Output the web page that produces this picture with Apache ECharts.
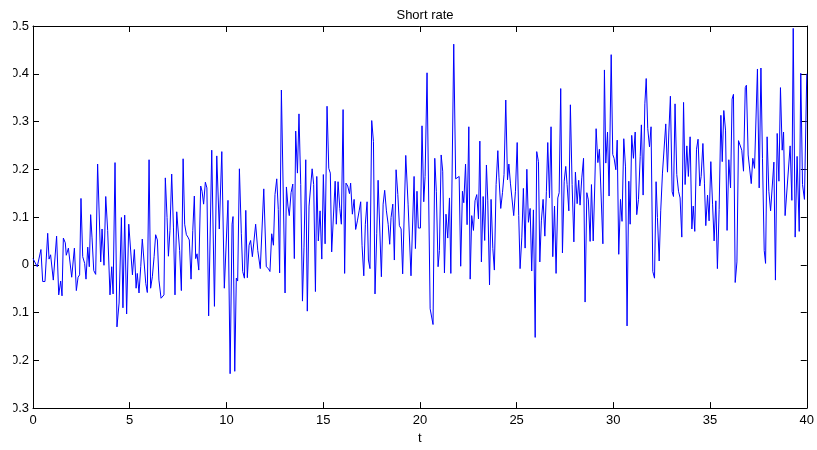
<!DOCTYPE html>
<html>
<head>
<meta charset="utf-8">
<script src="https://cdn.jsdelivr.net/npm/echarts@6/dist/echarts.min.js"></script>
<style>
html,body{margin:0;padding:0;background:#fff;}
#chart{width:817px;height:450px;}
</style>
</head>
<body>
<div id="chart"></div>
<script>
// ---- data ----
const titleText = 'Short rate';
const xName = 't';
const xTicks = [0, 5, 10, 15, 20, 25, 30, 35, 40];
const yTicks = [-0.3, -0.2, -0.1, 0, 0.1, 0.2, 0.3, 0.4, 0.5];

const t = [
0.00,0.10,0.22,0.31,0.41,0.50,0.62,0.67,0.76,0.83,0.91,1.00,1.05,1.22,1.33,1.43,1.50,1.57,1.67,1.72,1.83,2.00,2.14,2.24,2.33,2.41,2.48,2.57,2.67,2.74,2.83,2.91,2.98,3.05,3.14,3.24,3.34,3.50,3.57,3.67,3.76,3.86,3.98,4.07,4.14,4.24,4.34,4.45,4.57,4.65,4.74,4.84,4.95,
5.14,5.24,5.33,5.39,5.48,5.57,5.65,5.74,5.83,5.91,6.00,6.08,6.17,6.26,6.34,6.43,6.51,6.62,6.70,6.77,6.84,6.93,7.00,7.08,7.17,7.26,7.34,7.43,7.51,7.58,7.67,7.76,7.84,7.93,8.01,8.08,8.17,8.26,8.34,8.41,8.48,8.57,8.67,8.74,8.82,8.91,8.99,9.08,9.24,9.38,9.50,9.63,9.76,9.89,
10.08,10.19,10.29,10.34,10.43,10.51,10.58,10.67,10.77,10.84,10.93,11.00,11.08,11.17,11.25,11.34,11.51,11.62,11.75,11.93,12.06,12.17,12.25,12.34,12.43,12.51,12.60,12.68,12.75,12.84,13.03,13.10,13.18,13.25,13.34,13.43,13.51,13.58,13.67,13.75,13.84,13.93,14.01,14.10,14.18,14.27,14.36,14.43,14.51,14.60,14.67,14.75,14.84,
14.93,15.01,15.10,15.20,15.29,15.37,15.44,15.53,15.62,15.68,15.77,15.86,15.94,16.03,16.11,16.18,16.27,16.36,16.42,16.51,16.60,16.68,16.77,16.86,16.94,17.01,17.10,17.18,17.27,17.34,17.42,17.51,17.60,17.68,17.77,17.84,17.92,18.01,18.10,18.18,18.27,18.36,18.44,18.51,18.60,18.68,18.77,18.86,18.94,19.03,19.11,19.27,19.39,19.46,19.54,19.70,19.77,
19.85,19.92,20.03,20.11,20.20,20.27,20.37,20.53,20.68,20.77,20.85,20.94,21.01,21.10,21.18,21.27,21.35,21.44,21.53,21.60,21.75,21.85,21.94,22.03,22.11,22.20,22.27,22.36,22.44,22.53,22.60,22.68,22.77,22.85,22.94,23.03,23.10,23.18,23.27,23.35,23.44,23.51,23.60,23.68,23.77,23.85,23.94,24.03,24.09,24.18,24.27,24.35,24.44,24.53,24.60,
24.68,24.77,24.85,24.94,25.03,25.11,25.18,25.27,25.35,25.44,25.53,25.61,25.70,25.78,25.87,25.96,26.04,26.13,26.20,26.28,26.37,26.46,26.54,26.61,26.70,26.78,26.87,26.96,27.04,27.13,27.20,27.28,27.37,27.46,27.54,27.61,27.70,27.78,27.87,27.96,28.04,28.13,28.21,28.28,28.37,28.46,28.54,28.63,28.71,28.80,28.87,28.96,29.04,29.11,29.20,29.28,29.46,29.54,
29.61,29.70,29.78,29.89,29.97,30.04,30.13,30.20,30.28,30.37,30.45,30.54,30.63,30.71,30.80,30.87,30.95,31.04,31.13,31.21,31.30,31.39,31.45,31.54,31.63,31.70,31.78,31.87,31.95,32.04,32.13,32.21,32.28,32.37,32.45,32.54,32.63,32.71,32.80,32.87,32.95,33.04,33.11,33.19,33.28,33.37,33.45,33.54,33.63,33.71,33.80,33.88,33.97,34.06,34.13,34.21,34.30,34.38,34.47,
34.54,34.63,34.71,34.78,34.87,34.95,35.04,35.13,35.21,35.30,35.38,35.47,35.56,35.63,35.71,35.80,35.88,35.97,36.06,36.14,36.21,36.30,36.39,36.47,36.56,36.64,36.73,36.82,36.88,36.97,37.04,37.13,37.21,37.30,37.37,37.45,37.54,37.63,37.71,37.80,37.87,37.95,38.04,38.13,38.21,38.30,38.38,38.47,38.56,38.64,38.73,38.80,38.88,38.97,39.14,39.23,39.30,39.40,39.50,39.61,39.69,39.78,39.88,40.00
];

const rate = [
0.013,0.015,-0.004,-0.006,0.032,-0.035,-0.035,-0.032,0.066,0.012,0.021,0.017,-0.032,0.060,-0.063,-0.034,-0.065,0.056,0.046,0.020,0.035,-0.026,0.035,-0.054,-0.026,-0.021,0.139,0.017,0.003,-0.030,0.037,-0.004,0.105,0.058,-0.012,-0.020,0.211,0.006,0.075,-0.001,0.143,0.072,-0.063,-0.004,-0.061,0.214,-0.130,-0.080,0.099,-0.090,0.104,-0.103,0.085,
-0.021,0.032,-0.049,-0.018,-0.059,-0.004,0.054,0.058,-0.039,-0.058,0.220,-0.049,-0.025,0.017,0.063,0.052,-0.032,-0.070,-0.070,-0.063,0.182,0.099,0.018,0.072,0.190,0.079,-0.063,0.111,0.110,0.030,-0.054,0.222,0.085,0.063,0.058,0.052,-0.030,0.072,0.144,0.013,0.023,-0.011,0.165,0.154,0.127,0.173,0.161,-0.107,0.240,-0.087,0.228,0.075,0.237,-0.049,
0.135,-0.228,0.085,0.101,-0.223,-0.028,-0.034,0.201,0.065,-0.014,-0.028,0.114,-0.027,0.041,0.051,0.017,0.085,0.030,-0.008,0.159,-0.004,-0.008,-0.014,0.065,0.041,0.147,0.180,0.116,-0.017,0.366,-0.059,0.163,0.123,0.103,0.151,0.169,0.013,0.280,0.192,0.316,0.168,-0.076,0.037,0.220,-0.097,0.123,0.127,0.201,0.168,-0.056,0.185,0.050,0.113,
0.012,0.189,0.044,0.332,0.202,0.192,0.027,0.027,0.175,0.085,0.174,0.118,0.085,0.325,-0.018,0.171,0.165,0.149,0.171,0.106,0.137,0.074,0.092,0.113,0.132,0.041,-0.023,0.085,0.132,0.010,-0.008,0.302,0.258,-0.061,0.065,0.177,0.175,-0.025,0.127,0.156,0.113,0.085,0.043,0.099,0.127,0.010,0.199,0.147,0.082,0.075,-0.019,0.229,0.127,0.125,-0.023,0.185,0.034,
0.154,0.077,0.077,0.291,0.132,0.185,0.402,-0.092,-0.125,0.223,0.154,-0.004,0.030,0.230,0.196,-0.017,0.106,0.056,0.140,-0.018,0.462,0.180,0.183,0.185,-0.003,0.154,0.130,0.211,0.084,0.289,-0.030,0.103,0.072,0.134,0.147,0.096,0.259,0.006,0.143,0.051,0.209,0.134,-0.042,0.137,0.034,-0.011,0.168,0.239,0.182,0.118,0.151,0.189,0.345,0.178,0.211,
0.171,0.170,0.103,0.154,0.256,0.103,-0.008,0.058,0.160,0.035,0.200,0.089,0.118,-0.013,0.115,-0.152,0.237,0.216,0.006,0.092,0.137,0.060,0.154,0.256,0.140,0.289,0.017,0.123,-0.018,0.140,0.151,0.369,0.025,0.175,0.206,0.168,0.113,0.335,0.168,0.048,0.194,0.128,0.177,0.125,0.182,0.223,-0.078,0.151,0.136,0.049,0.168,0.050,0.165,0.285,0.214,0.242,0.044,0.408,
0.213,0.278,0.144,0.440,0.231,0.223,0.199,0.261,0.022,0.137,0.091,0.264,0.205,-0.128,0.175,0.085,0.271,0.223,0.278,0.105,0.137,0.227,0.293,0.146,0.337,0.390,0.285,0.247,0.289,-0.014,-0.028,0.174,0.099,0.008,0.113,0.192,0.194,0.295,0.194,0.278,0.353,0.153,0.143,0.337,0.189,0.154,0.140,0.058,0.340,0.168,0.249,0.185,0.268,0.075,0.123,0.070,0.242,0.263,0.165,
0.185,0.254,0.171,0.082,0.146,0.092,0.216,0.127,0.050,0.134,-0.008,0.116,0.313,0.216,0.323,0.282,0.072,0.220,0.161,0.347,0.357,-0.037,0.006,0.260,0.258,0.240,0.196,0.371,0.376,0.230,0.229,0.170,0.223,0.202,0.202,0.410,0.161,0.412,0.223,0.030,0.003,0.268,0.154,0.113,0.116,0.215,-0.032,0.275,0.175,0.371,0.240,0.278,0.103,0.099,0.249,0.135,0.495,0.058,0.227,0.070,0.401,0.168,0.137,0.400
];

// ---- chart ----
const FONT = "'Liberation Sans', Arial, Helvetica, sans-serif";
const seriesData = t.map((x, i) => [x, rate[i]]);
const fmtY = v => String(Math.round(v * 10) / 10);

const axisLine = { show: true, onZero: false, lineStyle: { color: '#000', width: 1 } };
const axisTick = { show: true, inside: true, length: 6, lineStyle: { color: '#000', width: 1 } };

const chart = echarts.init(document.getElementById('chart'), null, { renderer: 'canvas' });
chart.setOption({
  animation: false,
  backgroundColor: '#ffffff',
  title: {
    text: titleText,
    left: 420, top: 4, textAlign: 'center',
    textStyle: { fontFamily: FONT, fontSize: 13, fontWeight: 'normal', color: '#000' }
  },
  grid: { left: 33, top: 26, width: 774, height: 387, containLabel: false },
  xAxis: [
    {
      type: 'value', position: 'bottom',
      min: xTicks[0], max: xTicks[xTicks.length - 1], interval: xTicks[1] - xTicks[0],
      name: xName, nameLocation: 'middle', nameGap: 22,
      nameTextStyle: { fontFamily: FONT, fontSize: 13, color: '#000' },
      axisLine, axisTick,
      axisLabel: { show: true, margin: 6, fontFamily: FONT, fontSize: 13, color: '#000' },
      splitLine: { show: false }
    },
    {
      type: 'value', position: 'top',
      min: xTicks[0], max: xTicks[xTicks.length - 1], interval: xTicks[1] - xTicks[0],
      axisLine, axisTick, axisLabel: { show: false }, splitLine: { show: false }
    }
  ],
  yAxis: [
    {
      type: 'value', position: 'left',
      min: yTicks[0], max: yTicks[yTicks.length - 1], interval: 0.1,
      axisLine, axisTick,
      axisLabel: { show: true, margin: 4, fontFamily: FONT, fontSize: 13, color: '#000', formatter: fmtY },
      splitLine: { show: false }
    },
    {
      type: 'value', position: 'right',
      min: yTicks[0], max: yTicks[yTicks.length - 1], interval: 0.1,
      axisLine, axisTick, axisLabel: { show: false }, splitLine: { show: false }
    }
  ],
  series: [
    {
      type: 'line',
      xAxisIndex: 0, yAxisIndex: 0,
      data: seriesData,
      showSymbol: false,
      symbol: 'none',
      clip: true,
      lineStyle: { color: '#0000ff', width: 1 }
    }
  ],
  graphic: [
    { type: 'rect', left: 0, top: 0, z: 100, shape: { width: 13, height: 450 }, style: { fill: '#ffffff' } }
  ]
});
</script>
</body>
</html>
